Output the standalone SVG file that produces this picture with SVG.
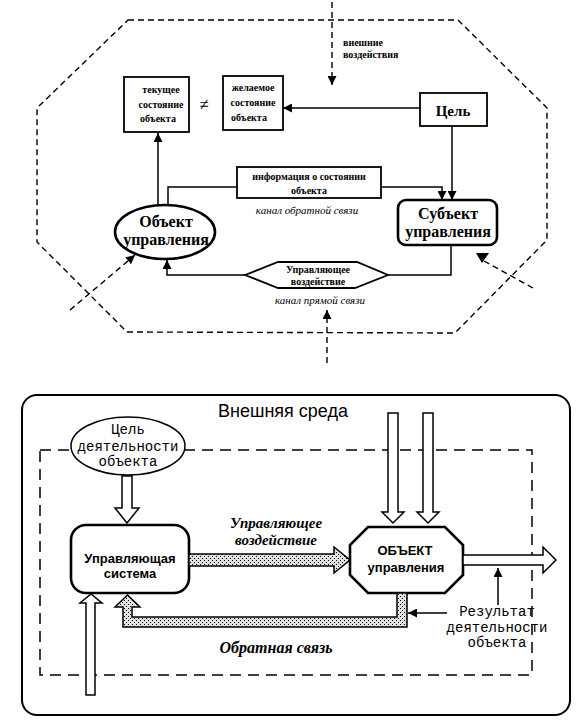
<svg xmlns="http://www.w3.org/2000/svg" width="581" height="727" viewBox="0 0 581 727">
<style>
.bg{fill:#fff}
.ln{fill:none;stroke:#000;stroke-width:1.5}
.dash{fill:none;stroke:#000;stroke-width:1.4;stroke-dasharray:6 4}
.box{fill:#fff;stroke:#000;stroke-width:1.8}
.bold{fill:#fff;stroke:#000;stroke-width:2.6}
.hollow{fill:#fff;stroke:#000;stroke-width:1.5;stroke-linejoin:miter}
.hat{fill:url(#hatch);stroke:#000;stroke-width:1.5}
.s{font-family:"Liberation Serif","Times New Roman",serif;fill:#000}
.a{font-family:"Liberation Sans",Arial,sans-serif;fill:#000}
.m{font-family:"Liberation Mono","Courier New",monospace;fill:#000;font-size:14px}
.sm{font-size:10px;font-weight:bold}
.it{font-size:11px;font-style:italic}
.big{font-size:16px;font-weight:bold}
</style>
<defs>
<marker id="ah" viewBox="0 0 10 10" refX="10" refY="5" markerWidth="9" markerHeight="9" markerUnits="userSpaceOnUse" orient="auto"><path d="M0,0 L10,5 L0,10 z" fill="#000"/></marker>
<pattern id="hatch" width="4" height="4" patternUnits="userSpaceOnUse"><rect width="4" height="4" fill="#e0e0e0"/><rect x="0" y="0" width="1" height="1" fill="#000"/><rect x="2" y="2" width="1" height="1" fill="#000"/></pattern>
</defs>
<rect width="581" height="727" class="bg"/>

<!-- TOP DIAGRAM -->
<g id="environment-top">
<polygon class="dash" points="128,20 458,20 547,108 547,240 455,333 127,332 37,242 37,108"/>
<text class="s sm" x="343" y="46" font-size="9.5">внешние</text>
<text class="s sm" x="343" y="58" font-size="9.5">воздействия</text>
</g>

<g id="current-state">
<rect class="box" x="124" y="77" width="65" height="55"/>
<text class="s sm" x="161" y="93" text-anchor="middle">текущее</text>
<text class="s sm" x="161" y="108" text-anchor="middle">состояние</text>
<text class="s sm" x="158" y="122" text-anchor="middle">объекта</text>
</g>
<text class="s" x="204" y="110" font-size="17" text-anchor="middle">≠</text>

<g id="desired-state">
<rect class="box" x="223" y="76" width="60" height="54"/>
<text class="s sm" x="253" y="91" text-anchor="middle">желаемое</text>
<text class="s sm" x="253" y="106" text-anchor="middle">состояние</text>
<text class="s sm" x="249" y="121" text-anchor="middle">объекта</text>
</g>

<g id="goal-top">
<rect class="box" x="420" y="93" width="67" height="33"/>
<text class="s" x="453" y="116" font-size="15" font-weight="bold" text-anchor="middle">Цель</text>
</g>

<g id="info">
<rect class="box" x="237" y="167" width="144" height="31"/>
<text class="s sm" x="309" y="180" text-anchor="middle">информация о состоянии</text>
<text class="s sm" x="309" y="194" text-anchor="middle">объекта</text>
</g>

<g id="object-top">
<ellipse class="bold" cx="165" cy="232" rx="50" ry="27"/>
<text class="s big" x="166" y="227" text-anchor="middle">Объект</text>
<text class="s big" x="166" y="245" text-anchor="middle">управления</text>
</g>

<g id="subject">
<rect class="bold" x="398" y="200" width="99" height="45" rx="8"/>
<text class="s big" x="448" y="219" text-anchor="middle">Субъект</text>
<text class="s big" x="448" y="237" text-anchor="middle">управления</text>
</g>

<g id="control-action-top">
<polygon class="box" points="245,275 278,262 357,262 388,275 355,288 278,288"/>
<text class="s sm" x="318" y="273" text-anchor="middle">Управляющее</text>
<text class="s sm" x="318" y="285" text-anchor="middle">воздействие</text>
</g>

<text class="s it" x="307" y="214" text-anchor="middle">канал обратной связи</text>
<text class="s it" x="320" y="304" text-anchor="middle">канал прямой связи</text>

<g id="connectors-top">
<path class="ln" d="M158,206 V133" marker-end="url(#ah)"/>
<path class="ln" d="M168,206 V187 H237"/>
<path class="ln" d="M381,187 H442 V200" marker-end="url(#ah)"/>
<path class="ln" d="M452,126 V200" marker-end="url(#ah)"/>
<path class="ln" d="M420,108 H283" marker-end="url(#ah)"/>
<path class="ln" stroke-width="2" d="M451,245 V275 H388"/>
<path class="ln" stroke-width="2.6" d="M245,275 H167 V260" marker-end="url(#ah)"/>
<path class="dash" d="M332,2 V85" marker-end="url(#ah)"/>
<path class="dash" d="M327,363 V310" marker-end="url(#ah)"/>
<path class="dash" d="M70,310 L135,255" marker-end="url(#ah)"/>
<path class="dash" d="M533,288 L484,261"/>
<polygon points="476,253 489,253 482,263" fill="#000"/>
</g>

<!-- BOTTOM DIAGRAM -->
<g id="environment-bottom">
<rect x="22" y="395" width="548" height="320" rx="15" fill="none" stroke="#000" stroke-width="2"/>
<text class="a" x="283" y="417" font-size="18" text-anchor="middle">Внешняя среда</text>
<rect x="40" y="450" width="492" height="225" fill="none" stroke="#000" stroke-width="1.5" stroke-dasharray="11 7"/>
</g>

<g id="goal-bottom">
<ellipse cx="128" cy="446" rx="57" ry="29" fill="#fff" stroke="#000" stroke-width="1.5"/>
<text class="m" x="128" y="434" text-anchor="middle">Цель</text>
<text class="m" x="128" y="451" text-anchor="middle">деятельности</text>
<text class="m" x="128" y="466" text-anchor="middle">объекта</text>
</g>

<g id="control-system">
<rect class="bold" x="71" y="525" width="118" height="68" rx="15"/>
<text class="a" x="130" y="563" font-size="13" font-weight="bold" text-anchor="middle">Управляющая</text>
<text class="a" x="130" y="578" font-size="13" font-weight="bold" text-anchor="middle">система</text>
</g>

<g id="object-bottom">
<polygon class="bold" points="368,527 445,527 463,545 463,575 445,593 368,593 350,575 350,545"/>
<text class="a" x="405" y="555" font-size="13" font-weight="bold" text-anchor="middle">ОБЪЕКТ</text>
<text class="a" x="406" y="572" font-size="13" font-weight="bold" text-anchor="middle">управления</text>
</g>

<g id="result">
<text class="m" x="497" y="616" text-anchor="middle">Результат</text>
<text class="m" x="497" y="632" text-anchor="middle">деятельности</text>
<text class="m" x="497" y="647" text-anchor="middle">объекта</text>
</g>

<text class="s" x="276" y="528" font-size="15" font-style="italic" font-weight="bold" text-anchor="middle">Управляющее</text>
<text class="s" x="276" y="545" font-size="15" font-style="italic" font-weight="bold" text-anchor="middle">воздействие</text>
<text class="s" x="276" y="653" font-size="16" font-style="italic" font-weight="bold" text-anchor="middle">Обратная связь</text>

<g id="connectors-bottom">
<polygon class="hollow" points="122,476 132,476 132,508 139,508 127,523 115,508 122,508"/>
<polygon class="hollow" points="388,413 398,413 398,512 404,512 393,523 382,512 388,512"/>
<polygon class="hollow" points="423,413 433,413 433,512 439,512 428,523 417,512 423,512"/>
<polygon class="hollow" points="86,695 86,603 80,603 91,594 102,603 95,603 95,695"/>
<polygon class="hollow" points="463,555 543,555 543,547 556,560 543,573 543,565 463,565"/>
<polygon class="hat" points="189,554 334,554 334,547 350,560 334,573 334,566 189,566"/>
<polygon class="hat" points="397,593 407,593 407,627 123,627 123,607 115,607 127.5,595 140,607 132,607 132,617 397,617"/>
<path class="ln" d="M498,605 V568" marker-end="url(#ah)"/>
<path class="ln" d="M447,613 H408" marker-end="url(#ah)"/>
</g>
</svg>
